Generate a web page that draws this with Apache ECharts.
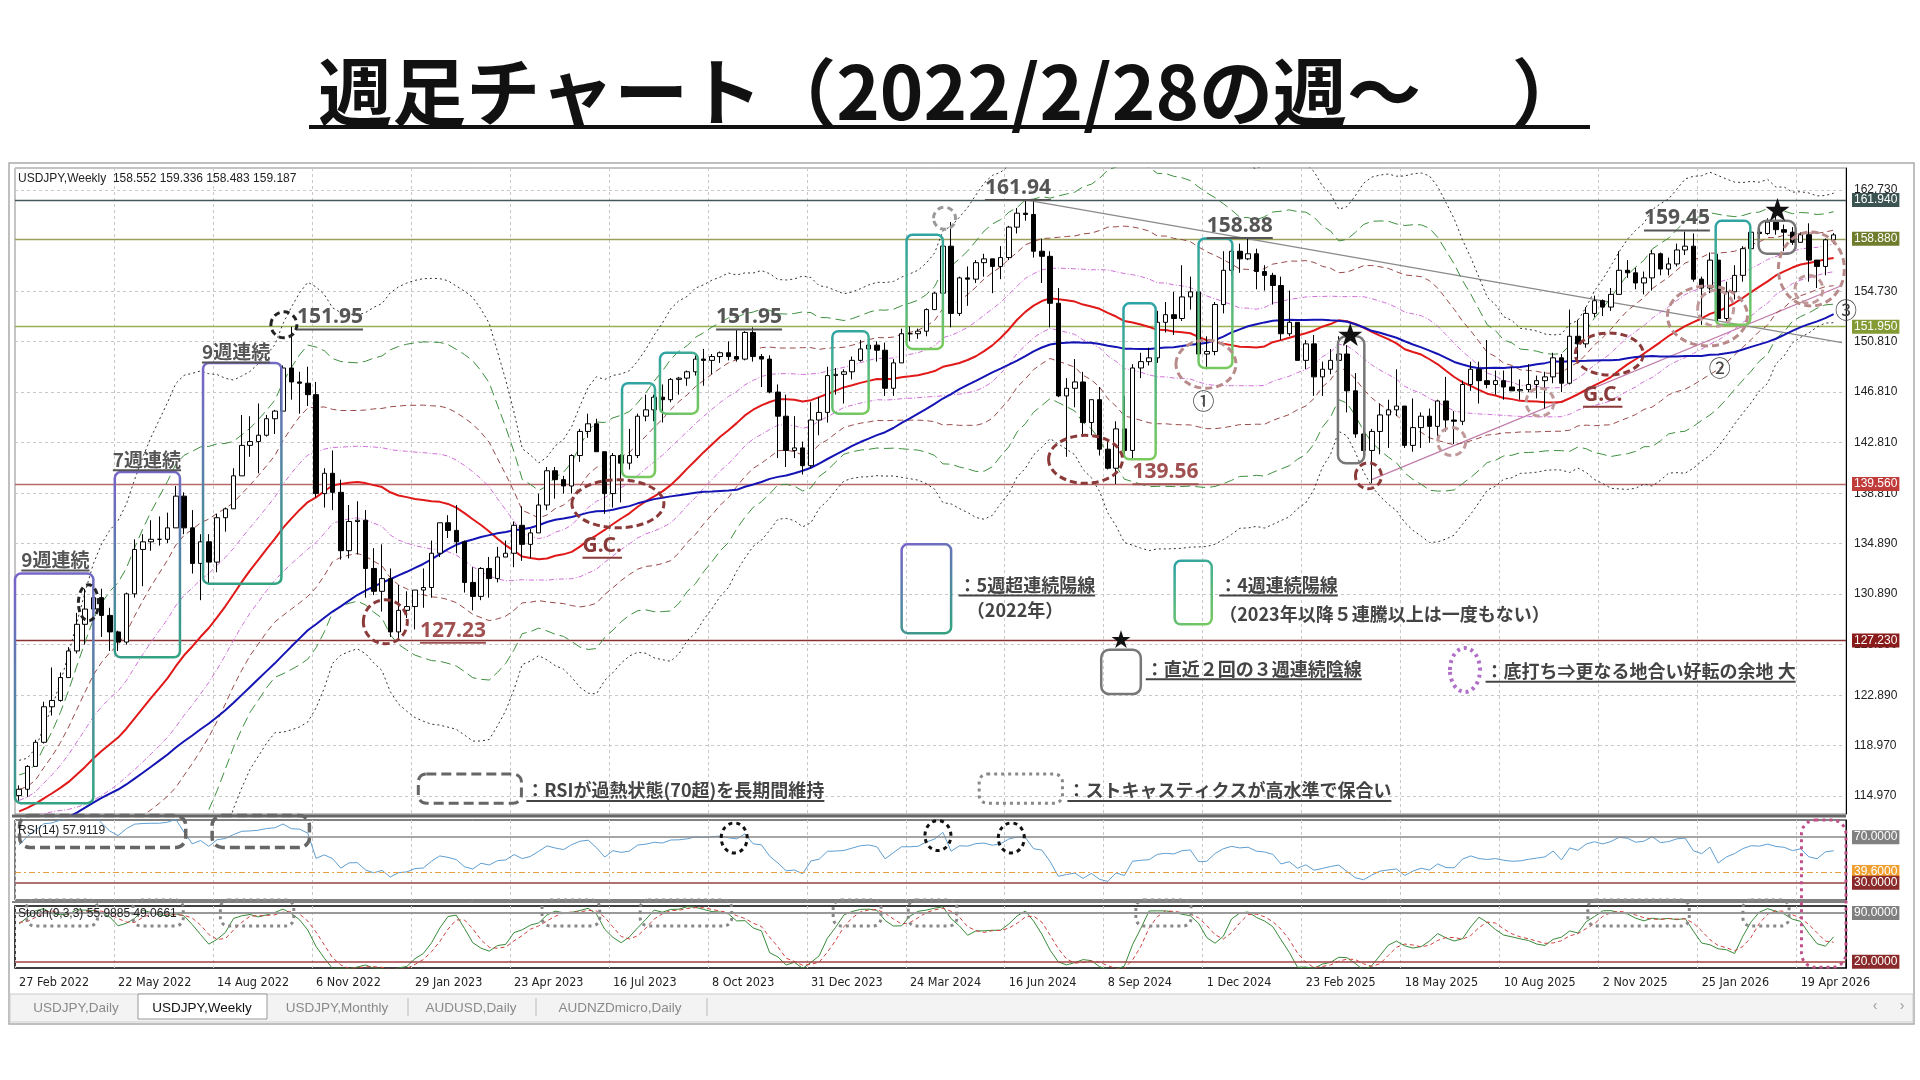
<!DOCTYPE html><html><head><meta charset="utf-8">
<script src="https://cdn.jsdelivr.net/npm/echarts@6/dist/echarts.min.js"></script>
<style>html,body{margin:0;background:#fff}#c{width:1920px;height:1080px}</style></head><body><div id="c"></div><script>
// ---------- DATA ----------
const preCloses=[108.3,109.0,108.9,109.7,110.3,109.7,108.8,107.9,109.0,109.0,109.4,108.9,109.8,110.0,109.5,110.2,109.9,110.7,110.2,110.4,111.1,110.5,110.1,111.0,109.9,110.3,109.8,109.6,109.9,109.9,110.0,109.7,110.1,110.7,111.0,112.2,113.3,114.2,113.4,114.0,113.4,113.9,114.0,113.4,112.8,113.4,113.7,114.4,115.1,115.6,114.2,113.7,115.2,115.2,115.4,115.0,115.0];
const closes=[115.5,117.3,119.2,122.0,122.5,124.3,126.4,128.5,129.7,130.6,
129.2,127.9,127.1,130.9,134.4,135.0,135.2,135.2,136.1,138.6,
136.1,133.3,135.0,133.4,136.9,137.6,140.2,142.6,142.9,143.4,
144.7,145.3,148.7,147.6,147.5,146.6,138.8,140.4,138.9,134.3,
136.6,136.7,132.9,131.1,132.1,127.9,129.6,129.9,131.2,131.4,
134.1,136.5,135.9,135.0,131.8,130.7,132.9,132.1,133.8,134.1,
136.3,134.8,135.7,137.9,140.6,139.9,139.4,141.8,143.7,144.3,
142.1,138.8,141.8,141.2,141.8,144.9,145.4,146.4,146.2,147.8,
147.9,148.4,149.4,149.3,149.6,149.9,149.6,149.4,151.5,149.6,
149.4,146.8,144.9,142.2,142.4,141.0,144.6,145.2,148.1,148.2,
148.4,149.3,150.2,150.5,150.1,147.1,149.1,151.4,151.4,151.6,
153.3,154.6,158.3,153.0,155.8,155.7,157.0,157.3,156.7,157.4,
159.8,160.9,160.8,157.9,157.5,153.8,146.5,147.1,147.6,144.4,
146.2,142.3,140.8,143.9,142.2,148.7,149.2,149.5,152.3,152.9,
152.6,154.3,154.7,149.8,150.0,153.7,156.4,157.9,157.3,157.7,
156.3,156.0,155.2,151.4,152.3,149.3,150.6,148.0,148.6,149.3,
149.8,146.9,143.5,142.2,143.7,145.0,145.4,145.7,142.6,144.0,
144.9,144.1,146.1,144.6,144.5,147.4,148.6,147.7,147.4,147.7,
147.2,146.9,147.0,147.4,147.7,148.0,149.5,147.5,151.2,150.6,
153.0,154.0,153.5,154.5,156.4,156.2,155.4,155.8,157.7,156.5,
156.9,158.0,158.3,155.7,155.0,157.2,152.6,154.7,156.0,158.1,
159.4,159.3,160.2,159.6,159.4,158.6,159.2,157.2,156.7,158.8,159.187];
const highs=[115.8,117.4,119.4,122.4,125.1,124.7,126.7,129.4,131.3,131.3,
131.3,129.8,128.0,131.0,135.2,135.6,136.7,137.0,137.3,139.4,
138.9,137.5,135.6,135.6,137.2,137.7,140.8,145.0,144.9,145.9,
145.0,145.4,148.9,151.95,148.4,148.8,147.6,140.8,142.2,139.9,
137.9,138.2,137.5,134.5,134.8,132.9,131.6,131.1,131.2,132.9,
135.1,136.5,137.1,137.9,135.1,133.0,133.0,133.8,134.6,135.1,
136.6,137.8,136.0,138.8,140.9,140.9,140.2,141.9,143.9,145.1,
144.7,142.1,142.0,141.9,143.9,145.1,146.6,146.6,147.4,147.9,
148.0,148.5,149.7,150.2,149.8,150.0,150.8,151.7,151.6,151.9,
149.8,149.7,147.4,146.6,144.9,142.9,146.0,146.4,148.8,148.7,
148.6,149.6,150.9,150.9,150.8,150.7,149.4,151.8,151.97,151.8,
153.4,154.7,158.4,160.2,155.9,156.7,157.2,157.7,157.3,158.3,
159.9,161.3,161.94,161.8,158.9,157.9,155.0,147.9,149.4,148.4,
146.2,147.2,143.1,144.5,146.5,149.0,149.9,150.3,153.2,153.9,
154.7,156.8,155.9,154.7,151.2,153.9,157.9,158.1,158.5,158.88,
158.1,156.8,156.2,155.9,154.8,152.2,150.9,151.3,149.2,150.2,
151.2,150.5,148.3,144.0,143.9,145.9,146.2,148.6,145.0,146.3,
145.2,145.5,146.2,148.0,145.3,147.7,149.2,149.2,150.9,148.5,
148.5,148.8,147.8,149.0,148.1,148.4,149.9,149.8,153.3,152.5,
153.5,154.4,154.1,155.0,157.9,157.2,156.6,156.3,158.0,157.8,
157.4,158.5,159.45,159.3,155.9,157.8,157.7,155.5,156.8,158.3,
159.6,159.7,160.5,160.8,160.0,159.8,159.4,160.1,157.2,158.9,159.336];
const lows=[114.6,114.9,117.7,119.1,121.3,122.4,124.3,126.2,126.9,128.6,
127.5,126.4,126.4,126.9,130.6,131.5,134.3,134.7,134.9,136.1,
135.6,132.5,130.4,131.7,132.6,135.8,137.6,140.2,141.7,140.4,
143.3,143.5,145.3,146.2,145.1,145.7,138.5,137.7,137.5,133.6,
133.7,134.0,130.6,130.8,129.5,127.5,127.23,129.0,128.1,129.8,
130.6,133.8,135.3,134.1,131.0,129.6,130.4,130.6,131.8,133.8,
133.0,133.5,133.7,135.7,137.5,138.4,138.8,138.8,141.3,143.2,
142.1,137.2,137.7,138.1,140.7,141.6,144.5,144.5,144.4,146.0,
146.6,147.3,148.1,147.3,148.2,149.1,149.3,149.2,149.3,149.2,
147.2,146.7,141.6,140.9,141.6,140.3,140.8,143.4,144.4,146.6,
145.9,147.8,149.2,149.7,149.2,146.5,146.5,149.3,150.8,151.0,
151.2,153.3,154.5,151.9,152.8,153.6,155.4,155.9,154.6,155.7,
157.2,159.3,160.3,157.4,155.4,151.9,146.4,141.7,145.6,143.4,
143.4,141.8,140.7,139.56,141.9,141.6,147.9,148.9,149.1,151.5,
151.3,152.4,153.3,149.5,148.6,149.7,153.0,156.0,156.2,157.2,
154.9,154.8,153.7,150.9,151.2,149.3,148.6,146.5,146.5,148.2,
149.3,145.2,143.2,141.6,139.6,141.9,142.4,144.9,142.4,142.1,
142.4,142.8,143.3,143.7,142.7,144.2,146.9,145.9,147.1,146.6,
146.2,146.9,146.2,146.8,146.3,145.5,147.5,146.8,147.4,149.4,
150.3,152.7,152.8,153.2,154.5,155.8,154.9,154.5,154.8,156.0,
156.0,156.7,157.6,155.5,152.1,154.6,152.4,152.3,154.1,155.5,
157.9,158.9,159.2,159.2,157.9,158.4,158.6,155.5,155.0,156.0,158.483];
const dateLabels=['27 Feb 2022','22 May 2022','14 Aug 2022','6 Nov 2022','29 Jan 2023','23 Apr 2023','16 Jul 2023','8 Oct 2023','31 Dec 2023','24 Mar 2024','16 Jun 2024','8 Sep 2024','1 Dec 2024','23 Feb 2025','18 May 2025','10 Aug 2025','2 Nov 2025','25 Jan 2026','19 Apr 2026'];
const priceTicks=[162.730,158.880,154.730,150.810,146.810,142.810,138.810,134.890,130.890,126.890,122.890,118.970,114.970];
const levels=[{v:161.940,t:'161.940'},{v:158.880,t:'158.880'},{v:151.950,t:'151.950'},{v:139.560,t:'139.560'},{v:127.230,t:'127.230'}];

// ---------- LAYOUT ----------
const GL=15,GR=1846,NS=222;
const M={top:168,h:646,min:113.55,max:164.46};
const R={top:820,h:80,min:15,max:85};
const S={top:906,h:62,min:11,max:100};
const slot=(GR-GL)/NS;
const X=w=>GL+(w+0.5)*slot;
const Y=p=>M.top+(M.max-p)/(M.max-M.min)*M.h;
const YR=v=>R.top+(R.max-v)/(R.max-R.min)*R.h;
const YS=v=>S.top+(S.max-v)/(S.max-S.min)*S.h;

// ---------- INDICATORS ----------
const P=preCloses.length;
const allC=preCloses.concat(closes);
const allH=preCloses.concat(highs), allL=preCloses.concat(lows);
const n=closes.length;
function sma(arr,k,i){k=Math.min(k,i+1);let s=0;for(let j=i-k+1;j<=i;j++)s+=arr[j];return s/k;}
function sd(arr,k,i){k=Math.min(k,i+1);const m=sma(arr,k,i);let s=0;for(let j=i-k+1;j<=i;j++)s+=(arr[j]-m)**2;return Math.sqrt(s/k);}
const ma26=[],ma52=[],bands={};
const bandMult={pink:0.6,brown:1.2,green:2.0,black:2.8};
for(const k in bandMult){bands[k+'U']=[];bands[k+'L']=[];}
for(let i=0;i<n;i++){const g=i+P;const m26=sma(allC,26,g),s=sd(allC,26,g);ma26.push(+m26.toFixed(3));ma52.push(+sma(allC,52,g).toFixed(3));
 for(const k in bandMult){bands[k+'U'].push(+(m26+bandMult[k]*s).toFixed(3));bands[k+'L'].push(+(m26-bandMult[k]*s).toFixed(3));}}
// RSI 14 (Wilder)
const rsiAll=[];let ag=0,al=0;
for(let i=1;i<allC.length;i++){const d=allC[i]-allC[i-1];const g=Math.max(d,0),l=Math.max(-d,0);
 if(i<=14){ag+=g/14;al+=l/14;}else{ag=(ag*13+g)/14;al=(al*13+l)/14;} rsiAll[i]=al===0?100:100-100/(1+ag/al);}
const rsi=closes.map((_,i)=>+rsiAll[i+P].toFixed(2));
// Stoch 9,3,3
const raw=[];for(let i=0;i<allC.length;i++){if(i<8){raw.push(null);continue;}let hh=-1e9,ll=1e9;for(let j=i-8;j<=i;j++){hh=Math.max(hh,allH[j]);ll=Math.min(ll,allL[j]);}raw.push(100*(allC[i]-ll)/(hh-ll||1));}
const K=raw.map((v,i)=>i<10?null:(raw[i]+raw[i-1]+raw[i-2])/3);
const D=K.map((v,i)=>i<12?null:(K[i]+K[i-1]+K[i-2])/3);
const stK=closes.map((_,i)=>+K[i+P].toFixed(2)), stD=closes.map((_,i)=>+D[i+P].toFixed(2));

const candles=closes.map((c,i)=>{const o=i===0?preCloses[P-1]:closes[i-1];return [o,c,Math.min(lows[i],o,c),Math.max(highs[i],o,c)];});
const cats=Array.from({length:NS},(_,i)=>String(i));

const F='"Liberation Sans","DejaVu Sans",sans-serif';
const JP='"Noto Sans CJK JP",sans-serif';
const grid12=i=>i%12===0;
function xAx(gi,labels){return {type:'category',gridIndex:gi,data:cats,boundaryGap:true,axisLine:{show:false},axisTick:{show:false},
 splitLine:{show:true,interval:grid12,lineStyle:{color:'#c8c8c8',type:[3,3]}},
 axisLabel:labels?{show:true,interval:grid12,formatter:(v,i)=>dateLabels[i/12]||'',align:'left',margin:8,fontSize:12.5,color:'#222',fontFamily:'"DejaVu Sans Condensed","Liberation Sans Narrow",sans-serif'}:{show:false}};}
function yAx(gi,o){return {type:'value',gridIndex:gi,min:o.min,max:o.max,position:'right',axisLine:{show:true,lineStyle:{color:'#000'}},axisTick:{show:false},axisLabel:{show:false},splitLine:{show:false}};}
const lbl=(t,bg,fc)=>({show:true,position:'end',distance:6,formatter:t,color:fc||'#fff',backgroundColor:bg||'transparent',padding:[1,2],fontSize:12,fontFamily:F});
const levelStyle={'161.940':['#46595a','#3b5452'],'158.880':['#9aa05a','#6f7d2c'],'151.950':['#9aae55','#849a34'],'139.560':['#b86a6a','#c23b3b'],'127.230':['#8b3030','#8a1b1b']};
const mlData=[];
priceTicks.forEach(v=>mlData.push({yAxis:v,lineStyle:{color:'#c8c8c8',type:[3,3],width:1},label:lbl(v.toFixed(3),null,'#222')}));
levels.forEach(l=>mlData.push({yAxis:l.v,lineStyle:{color:levelStyle[l.t][0],type:'solid',width:1.3},label:lbl(l.t,levelStyle[l.t][1])}));
mlData.push([{coord:[122,161.94],lineStyle:{color:'#8a8a8a',width:1.3,type:'solid'},label:{show:false}},{coord:[221,150.7]}]);
mlData.push([{coord:[164,139.9],lineStyle:{color:'#c07aa8',width:1.2,type:'solid'},label:{show:false}},{coord:[221,155.2]}]);

function line(name,data,color,type,width,xi,yi,z){return {name,type:'line',data,xAxisIndex:xi||0,yAxisIndex:yi||0,showSymbol:false,symbol:'none',lineStyle:{color,type:type||'solid',width:width||1},z:z||2,silent:true,animation:false};}
const series=[
 line('blackU',bands.blackU,'#333',[2,3],1),line('blackL',bands.blackL,'#333',[2,3],1),
 line('greenU',bands.greenU,'#3f8f3f',[10,5],1),line('greenL',bands.greenL,'#3f8f3f',[10,5],1),
 line('brownU',bands.brownU,'#9a4a4a',[6,4],1),line('brownL',bands.brownL,'#9a4a4a',[6,4],1),
 line('pinkU',bands.pinkU,'#d070d8',[5,2,1,2],1),line('pinkL',bands.pinkL,'#d070d8',[5,2,1,2],1),
 line('ma26',ma26,'#e01818','solid',2,0,0,4),line('ma52',ma52,'#1414b4','solid',2,0,0,4),
 {type:'candlestick',data:candles,xAxisIndex:0,yAxisIndex:0,barWidth:5,z:5,animation:false,silent:true,
  itemStyle:{color:'#fff',color0:'#000',borderColor:'#000',borderColor0:'#000',borderWidth:1},
  markLine:{silent:true,symbol:['none','none'],animation:false,data:mlData,z:1}},
 Object.assign(line('rsi',rsi,'#5f9ed0','solid',1,1,1,3),{markLine:{silent:true,symbol:['none','none'],animation:false,data:[
   {yAxis:85,lineStyle:{opacity:0},label:lbl('85',null,'#222')},
   {yAxis:70,lineStyle:{color:'#888',width:1.5,type:'solid'},label:lbl('70.0000','#808080')},
   {yAxis:39.6,lineStyle:{color:'#e8a040',type:[6,3,2,3],width:1},label:lbl('39.6000','#f0a030')},
   {yAxis:30,lineStyle:{color:'#b07070',width:2,type:'solid'},label:lbl('30.0000','#8b2a2a')},
   {yAxis:15,lineStyle:{opacity:0},label:lbl('15',null,'#222')}]}}),
 Object.assign(line('K',stK,'#3a8a3a','solid',1,2,2,3),{markLine:{silent:true,symbol:['none','none'],animation:false,data:[
   {yAxis:90,lineStyle:{color:'#999',width:2,type:'solid'},label:lbl('90.0000','#808080')},
   {yAxis:20,lineStyle:{color:'#a04040',width:1.5,type:'solid'},label:lbl('20.0000','#8b2a2a')}]}}),
 line('D',stD,'#d04040',[4,3],1,2,2,3)
];

// ---------- ANNOTATIONS ----------
const ctx=document.createElement('canvas').getContext('2d');
const G=[];
function T(text,x,y,font,fill,align,ul){G.push({type:'text',z:50,style:{text,x,y,font,fill,textAlign:align||'center',textVerticalAlign:'middle'}});
 if(ul){ctx.font=font;const w=ctx.measureText(text).width;const sz=parseInt(font.match(/(\d+)px/)[1]);const x0=align==='left'?x:x-w/2;
  G.push({type:'line',z:50,shape:{x1:x0,y1:y+sz*0.58,x2:x0+w,y2:y+sz*0.58},style:{stroke:fill,lineWidth:2}});}}
const grad=(a,b)=>({type:'linear',x:0,y:0,x2:1,y2:1,colorStops:[{offset:0,color:a},{offset:1,color:b}]});
function RB(x1,x2,y1,y2,stroke,lw,dash,r){G.push({type:'rect',z:45,shape:{x:x1,y:y1,width:x2-x1,height:y2-y1,r:r||6},style:{fill:'none',stroke,lineWidth:lw||2.5,lineDash:dash||null}});}
function EL(cx,cy,rx,ry,stroke,lw,dash){G.push({type:'ellipse',z:45,shape:{cx,cy,rx,ry},style:{fill:'none',stroke,lineWidth:lw||3,lineDash:dash||[7,4]}});}
const NUMF='bold 21px "Noto Sans",sans-serif', JPF='bold 19px '+JP;
[['161.94',121.1,162.9,'#555'],['151.95',37.7,152.7,'#555'],['151.95',88.5,152.7,'#555'],['158.88',148.0,159.9,'#555'],['159.45',201.0,160.5,'#555'],['139.56',139.0,140.5,'#a05050'],['127.23',52.6,128.0,'#a05050']]
 .forEach(a=>T(a[0],X(a[1]),Y(a[2]),NUMF,a[3],'center',true));
[['9週連続',4.4,133.6],['7週連続',15.5,141.5],['9週連続',26.3,150.0]].forEach(a=>T(a[0],X(a[1]),Y(a[2]),JPF,'#555','center',true));
[['G.C.',70.7,134.7],['G.C.',192.0,146.6]].forEach(a=>T(a[0],X(a[1]),Y(a[2]),NUMF,'#8b3a3a','center',true));
[['①',143.6,146.1],['②',206.2,148.7],['③',221.5,153.3]].forEach(a=>T(a[0],X(a[1]),Y(a[2]),'22px '+JP,'#444','center',false));
const PG=grad('#7a62cc','#2fa67e'), GG=grad('#2aa0a8','#7ccc5a');
[[-0.5,9.0,132.5,114.4],[11.6,19.5,140.5,125.9],[22.3,31.8,149.1,131.7]].forEach(b=>RB(X(b[0]),X(b[1]),Y(b[2]),Y(b[3]),PG));
[[73.1,77.1,147.5,140.1],[77.7,82.3,149.9,145.1],[98.6,103.0,151.6,145.1],[107.6,112.0,159.2,150.2],[133.9,137.8,153.8,141.5],[143.0,147.1,158.9,148.7],[205.7,209.9,160.3,152.1]].forEach(b=>RB(X(b[0]),X(b[1]),Y(b[2]),Y(b[3]),GG));
[[159.9,163.1,151.2,141.2],[210.9,215.4,160.3,157.7]].forEach(b=>RB(X(b[0]),X(b[1]),Y(b[2]),Y(b[3]),'#777',2.5,null,8));
[[161.4,151.4],[213.2,161.2]].forEach(s=>T('★',X(s[0]),Y(s[1]),'26px '+JP,'#111'));
[[72.6,138.0,46,24,'#8b3a3a'],[192.8,149.8,34,21,'#8b3a3a'],[129.3,141.5,37,24,'#8b3a3a'],[44.4,128.7,22,22,'#8b3a3a'],
 [143.9,149.0,30,24,'#b88a8a'],[204.7,152.8,40,30,'#b88a8a'],[217.3,156.5,33,37,'#b88a8a'],
 [163.6,140.2,13,13,'#8b3a3a'],[173.7,142.9,14,14,'#c09a9a'],[184.4,146.0,14,14,'#c09a9a'],[217.0,154.9,14,14,'#c09a9a'],[205.7,153.4,18,18,'#c09a9a']]
 .forEach(e=>EL(X(e[0]),Y(e[1]),e[2],e[3],e[4]));
EL(X(32.1),Y(152.1),13,13,'#222',3,[6,4]);EL(X(8.4),Y(130.2),10,18,'#222',3,[6,4]);EL(X(112.2),Y(160.5),11,11,'#999',3,[6,4]);
RB(X(107.0),X(113.0),Y(134.8),Y(127.8),PG);
T('：5週超連続陽線',X(113.9),Y(131.6),'bold 18px '+JP,'#444','left',true);T('（2022年）',X(114.9),Y(129.6),'bold 18px '+JP,'#444','left');
RB(X(140.1),X(144.6),Y(133.5),Y(128.5),GG);
T('：4週連続陽線',X(145.5),Y(131.6),'bold 18px '+JP,'#444','left',true);T('（2023年以降５連騰以上は一度もない）',X(145.5),Y(129.3),'bold 18px '+JP,'#444','left');
RB(X(131.2),X(136.0),Y(126.5),Y(123.0),'#777',2.5,null,8);T('★',X(133.6),Y(127.3),'20px '+JP,'#111');
T('：直近２回の３週連続陰線',X(136.6),Y(125.0),'bold 18px '+JP,'#444','left',true);
EL(X(175.3),Y(124.9),15,22,'#b070c8',4,[3,4]);
T('：底打ち⇒更なる地合い好転の余地 大',X(177.8),Y(124.8),'bold 18px '+JP,'#444','left',true);
RB(X(48.4),X(60.9),Y(116.7),Y(114.4),'#666',3,[10,5],8);
T('：RSIが過熱状態(70超)を長期間維持',X(61.5),Y(115.4),'bold 18px '+JP,'#444','left',true);
RB(X(116.4),X(126.5),Y(116.7),Y(114.4),'#888',3,[3,4],8);
T('：ストキャスティクスが高水準で保合い',X(127.1),Y(115.4),'bold 18px '+JP,'#444','left',true);
[[0.05,20.2],[23.4,35.2]].forEach(b=>RB(X(b[0]),X(b[1]),YR(88.9),YR(61.0),'#666',3.5,[10,5],10));
[[86.7,69.3],[111.4,71.4],[120.3,69.3]].forEach(c=>EL(X(c[0]),YR(c[1]),13,15,'#111',3,[4,4]));
[[0.9,9.5],[13.8,19.9],[24.4,33.3],[63.4,70.4],[75.3,86.4],[98.7,104.5],[107.8,113.7],[135.4,142.1],[190.2,202.5],[209.0,214.6]]
 .forEach(b=>RB(X(b[0]),X(b[1]),YS(108.6),YS(71.3),'#888',3,[3,4],8));
RB(X(216.1),X(221.5),YR(85),YS(12),'#c0508a',3,[3,4],14);
T('USDJPY,Weekly  158.552 159.336 158.483 159.187',18,179,'12px '+F,'#222','left');
T('RSI(14) 57.9119',18,831,'12px '+F,'#222','left');
T('Stoch(9,3,3) 55.9885 49.0661',18,914,'12px '+F,'#222','left');
T('週足チャート（2022/2/28の週～　 ）',952,92,'bold 74px '+JP,'#111');
G.push({type:'line',z:50,shape:{x1:309,y1:127,x2:1590,y2:127},style:{stroke:'#111',lineWidth:4}});
G.push({type:'rect',z:0,shape:{x:9,y:163,width:1905,height:861},style:{fill:'none',stroke:'#aaa',lineWidth:1.5}});
G.push({type:'line',z:40,shape:{x1:12,y1:816,x2:1846,y2:816},style:{stroke:'#666',lineWidth:3}});
G.push({type:'line',z:40,shape:{x1:12,y1:902,x2:1846,y2:902},style:{stroke:'#000',lineWidth:1}});
G.push({type:'rect',z:1,shape:{x:10,y:994,width:1903,height:28},style:{fill:'#f3f3f3',stroke:'#ccc'}});
G.push({type:'rect',z:2,shape:{x:138,y:994,width:129,height:25},style:{fill:'#fff',stroke:'#999'}});
[['USDJPY,Daily',76],['USDJPY,Weekly',202],['USDJPY,Monthly',337],['AUDUSD,Daily',471],['AUDNZDmicro,Daily',620]].forEach((t,i)=>T(t[0],t[1],1008,'13.5px '+F,i===1?'#111':'#8a8a8a'));
[408,536,707].forEach(x=>G.push({type:'line',z:3,shape:{x1:x,y1:998,x2:x,y2:1016},style:{stroke:'#bbb'}}));
T('‹',1875,1006,'14px '+F,'#999');T('›',1902,1006,'14px '+F,'#999');

const chart=echarts.init(document.getElementById('c'),null,{renderer:'canvas'});
chart.setOption({animation:false,backgroundColor:'#fff',
 grid:[{left:GL,right:1920-GR,top:M.top,height:M.h,show:true,borderColor:'#888',borderWidth:1},
       {left:GL,right:1920-GR,top:R.top,height:R.h,show:true,borderColor:'#000',borderWidth:1},
       {left:GL,right:1920-GR,top:S.top,height:S.h,show:true,borderColor:'#000',borderWidth:1.5}],
 xAxis:[xAx(0,false),xAx(1,false),xAx(2,true)],
 yAxis:[yAx(0,M),yAx(1,R),yAx(2,S)],
 series, graphic:{elements:G}});
</script></body></html>
